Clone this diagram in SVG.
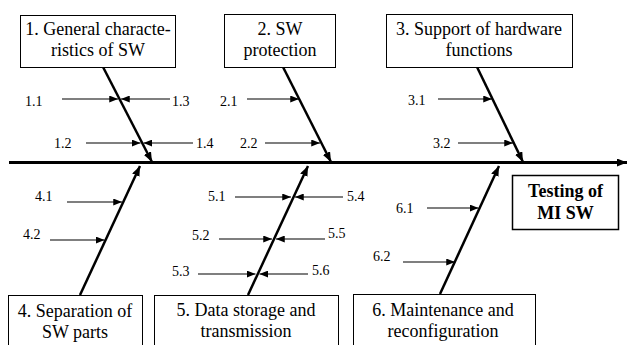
<svg xmlns="http://www.w3.org/2000/svg" width="628" height="345" viewBox="0 0 628 345" font-family="Liberation Serif, DejaVu Serif, serif">
<defs>
<marker id="ah" viewBox="0 0 10 8" refX="10" refY="4" markerWidth="9" markerHeight="7" markerUnits="userSpaceOnUse" orient="auto"><path d="M0,0 L10,4 L0,8 Z" fill="#000"/></marker>
<marker id="bh" viewBox="0 0 10 8" refX="10" refY="4" markerWidth="10" markerHeight="8" markerUnits="userSpaceOnUse" orient="auto"><path d="M0,0 L10,4 L0,8 Z" fill="#000"/></marker>
</defs>
<style>
.box{fill:#fff;stroke:#000;stroke-width:1}
.bt{font-size:18px;text-anchor:middle;fill:#000}
.lb{font-size:14px;fill:#000}
.bone{stroke:#000;stroke-width:2.5;fill:none;marker-end:url(#bh)}
.sa{stroke:#000;stroke-width:1.2;fill:none;marker-end:url(#ah)}
</style>
<rect width="628" height="345" fill="#fff"/>
<g id="connectors">
<line x1="9" y1="162.5" x2="627" y2="162.5" stroke="#000" stroke-width="3" marker-end="url(#bh)"/>
<line class="bone" x1="103" y1="67" x2="152" y2="162"/>
<line class="bone" x1="283" y1="67" x2="331" y2="162"/>
<line class="bone" x1="477" y1="67" x2="523" y2="162"/>
<line class="bone" x1="80" y1="295" x2="140" y2="166"/>
<line class="bone" x1="248" y1="295" x2="308" y2="166"/>
<line class="bone" x1="440" y1="294" x2="499" y2="166"/>
<line class="sa" x1="62" y1="99" x2="118" y2="99"/>
<line class="sa" x1="170" y1="99" x2="121" y2="99"/>
<line class="sa" x1="86" y1="143" x2="140.5" y2="143"/>
<line class="sa" x1="193" y1="143" x2="143.5" y2="143"/>
<line class="sa" x1="247" y1="99" x2="299" y2="99"/>
<line class="sa" x1="265" y1="143" x2="320" y2="143"/>
<line class="sa" x1="438" y1="99" x2="492" y2="99"/>
<line class="sa" x1="458" y1="143" x2="513" y2="143"/>
<line class="sa" x1="67" y1="202" x2="122" y2="202"/>
<line class="sa" x1="50" y1="240" x2="104.5" y2="240"/>
<line class="sa" x1="235" y1="197" x2="291" y2="197"/>
<line class="sa" x1="343" y1="197" x2="295" y2="197"/>
<line class="sa" x1="219" y1="239" x2="272" y2="239"/>
<line class="sa" x1="325" y1="239" x2="276" y2="239"/>
<line class="sa" x1="198" y1="274" x2="255.5" y2="274"/>
<line class="sa" x1="308" y1="274" x2="259.5" y2="274"/>
<line class="sa" x1="427" y1="208" x2="478.5" y2="208"/>
<line class="sa" x1="403" y1="262" x2="455" y2="262"/>
</g>
<g id="labels" font-family="Liberation Serif">
<text class="lb" x="25" y="106">1.1</text>
<text class="lb" x="172" y="106">1.3</text>
<text class="lb" x="54" y="148">1.2</text>
<text class="lb" x="196" y="148">1.4</text>
<text class="lb" x="220" y="106">2.1</text>
<text class="lb" x="240" y="148">2.2</text>
<text class="lb" x="408" y="105">3.1</text>
<text class="lb" x="433" y="148">3.2</text>
<text class="lb" x="35" y="201">4.1</text>
<text class="lb" x="23" y="239">4.2</text>
<text class="lb" x="208" y="201">5.1</text>
<text class="lb" x="347" y="201">5.4</text>
<text class="lb" x="192" y="240">5.2</text>
<text class="lb" x="328" y="238">5.5</text>
<text class="lb" x="172" y="276">5.3</text>
<text class="lb" x="312" y="275">5.6</text>
<text class="lb" x="396" y="213">6.1</text>
<text class="lb" x="373" y="261">6.2</text>
</g>
<g id="n1"><rect class="box" x="20.5" y="15.5" width="155" height="52"/><text class="bt" x="98" y="35">1. General characte-</text><text class="bt" x="98" y="56">ristics of SW</text></g>
<g id="n2"><rect class="box" x="224.5" y="14.5" width="111" height="53"/><text class="bt" x="280" y="35">2. SW</text><text class="bt" x="280" y="56">protection</text></g>
<g id="n3"><rect class="box" x="386.5" y="14.5" width="186" height="53"/><text class="bt" x="479" y="35">3. Support of hardware</text><text class="bt" x="479" y="56">functions</text></g>
<g id="n4"><rect class="box" x="8.5" y="295.5" width="134" height="60"/><text class="bt" x="75" y="317">4. Separation of</text><text class="bt" x="75" y="338">SW parts</text></g>
<g id="n5"><rect class="box" x="154.5" y="295.5" width="184" height="60"/><text class="bt" x="246" y="316">5. Data storage and</text><text class="bt" x="246" y="337">transmission</text></g>
<g id="n6"><rect class="box" x="353.5" y="294.5" width="182" height="60"/><text class="bt" x="443" y="316">6. Maintenance and</text><text class="bt" x="443" y="337">reconfiguration</text></g>
<g id="n7"><rect x="512.5" y="175.5" width="106" height="54" fill="#fff" stroke="#000" stroke-width="1.5"/><text class="bt" x="565.5" y="197" font-weight="bold">Testing of</text><text class="bt" x="565.5" y="219" font-weight="bold">MI SW</text></g>
</svg>
